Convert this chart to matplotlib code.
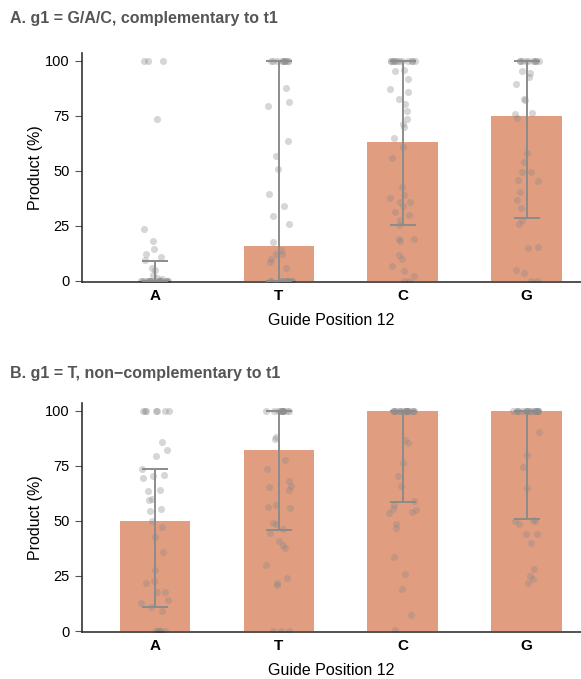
import numpy as np
import matplotlib
matplotlib.use("Agg")
import matplotlib.pyplot as plt

plt.rcParams['font.family'] = ['Liberation Sans', 'DejaVu Sans']

categories = ["A", "T", "C", "G"]

# Panel A: g1 = G/A/C
a_bar = [0, 16, 63, 75]
a_lo = [0, 0, 25.5, 28.8]
a_hi = [9.3, 100, 100, 100]
a_pts = {
    "A": [100]*3 + [73.6, 23.6, 18.0, 14.5, 12.1, 10.8, 9.5, 5.9, 4.8, 2.6, 1.5, 1.0] + [0]*20,
    "T": [100]*10 + [87.6, 81.4, 79.5, 63.6, 56.8, 50.9, 39.4, 34.1, 29.4, 25.9, 17.6,
                      13.9, 12.4, 12.4, 9.8, 8.6, 5.8] + [0]*12,
    "C": [100]*12 + [95.6, 95.8, 91.7, 87.1, 85.9, 82.7, 80.2, 77.1, 73.6, 71.5, 69.8, 64.8,
                      60.8, 55.9, 42.6, 39.1, 35.8, 35.8, 37.7, 34.1, 31.2, 29.8, 27.6, 25.3,
                      19.1, 18.2, 18.9, 11.7, 10.2, 6.8, 4.7, 2.3, 0, 0],
    "G": [100]*10 + [95.5, 94.5, 92.7, 89.7, 82.4, 82.6, 76.1, 75.8, 73.9, 58.0, 54.1, 49.5,
                      49.5, 46.1, 45.5, 40.5, 36.7, 33.2, 27.6, 25.8, 15.0, 15.5, 5.2, 3.5, 0, 0],
}

# Panel B: g1 = T
b_bar = [50, 82.3, 100, 100]
b_lo = [10.9, 45.8, 58.8, 50.9]
b_hi = [73.8, 100, 100, 100]
b_pts = {
    "A": [100]*7 + [85.8, 82.3, 79.4, 73.8, 69.7, 70.3, 70.8, 63.8, 64.1, 60.2, 59.5, 55.3,
                     54.7, 50.0, 47.1, 42.9, 35.8, 27.9, 21.7, 22.7, 17.6, 17.6, 14.1, 12.9,
                     11.1, 9.2] + [0]*6,
    "T": [100]*12 + [88.3, 87.1, 77.9, 73.6, 68.0, 64.1, 66.1, 65.3, 56.5, 56.1, 57.1, 48.9,
                      48.8, 46.5, 44.4, 40.8, 38.9, 37.6, 30.2, 23.9, 21.8, 20.8] + [0]*3,
    "C": [100]*18 + [87.0, 85.6, 76.5, 70.6, 65.8, 59.1, 57.1, 55.5, 53.6, 54.1, 55.0, 48.6,
                      47.0, 33.8, 25.8, 18.9, 7.4, 0.5],
    "G": [100]*18 + [90.6, 79.8, 74.7, 65.0, 50.2, 50.6, 50.2, 48.5, 44.1, 43.9, 39.8, 28.2,
                      24.8, 23.6, 22.0],
}

titles = ["A. g1 = G/A/C, complementary to t1", "B. g1 = T, non\u2212complementary to t1"]

BAR_COLOR = "#E19D7F"
ERR_COLOR = "#8C8C8C"
PT_COLOR = "#8a8a8a"

fig = plt.figure(figsize=(5.81, 6.79), dpi=100)
ax_a = fig.add_axes([0.1411, 0.5847, 0.8589, 0.3373])
ax_b = fig.add_axes([0.1411, 0.0692, 0.8589, 0.3373])

rng = np.random.default_rng(3)

def draw(ax, bars, lo, hi, pts, title, title_y):
    x = np.arange(len(categories))
    ax.bar(x, bars, width=0.57, color=BAR_COLOR, zorder=1)
    for i, c in enumerate(categories):
        v = np.array(pts[c], dtype=float)
        jit = rng.uniform(-0.11, 0.11, size=len(v))
        ax.scatter(x[i] + jit, v, s=26, color=PT_COLOR, alpha=0.35,
                   linewidths=0, zorder=2)
    yerr = np.array([np.array(bars) - np.array(lo), np.array(hi) - np.array(bars)])
    ax.errorbar(x, bars, yerr=yerr, fmt='none', ecolor=ERR_COLOR, elinewidth=1.4,
                capsize=9.5, capthick=1.4, zorder=3)
    ax.set_xlim(-0.59, 3.44)
    ax.set_ylim(-0.45, 103.6)
    ax.set_yticks([0, 25, 50, 75, 100])
    ax.set_xticks(x)
    ax.set_xticklabels(categories, fontsize=11, fontweight='bold')
    ax.tick_params(axis='x', length=0, pad=5)
    ax.tick_params(axis='y', labelsize=10.5, length=5, color='#555555', pad=4)
    for s in ['top', 'right']:
        ax.spines[s].set_visible(False)
    for s in ['left', 'bottom']:
        ax.spines[s].set_color('#333333')
        ax.spines[s].set_linewidth(1.2)
    ax.set_ylabel("Product (%)", fontsize=11.5, labelpad=1)
    ax.set_xlabel("Guide Position 12", fontsize=11.5, labelpad=7)
    fig.text(10/581, title_y, title, fontsize=11.5, fontweight='bold',
             color='#555555', ha='left', va='center')

draw(ax_a, a_bar, a_lo, a_hi, a_pts, titles[0], 1 - 18/679)
draw(ax_b, b_bar, b_lo, b_hi, b_pts, titles[1], 1 - 373/679)

fig.savefig("out.png", dpi=100)
